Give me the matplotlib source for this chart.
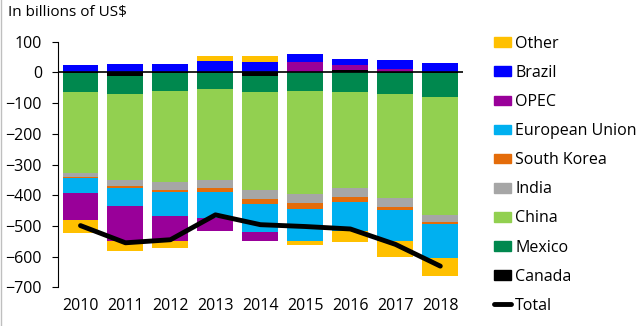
import numpy as np
import matplotlib.pyplot as plt
from matplotlib.patches import Patch
from matplotlib.lines import Line2D

plt.rcParams['font.family'] = ['Open Sans', 'DejaVu Sans']

years = ["2010", "2011", "2012", "2013", "2014", "2015", "2016", "2017", "2018"]

# billions of US$
canada = [-3, -11, -3, -3, -11, 3, 8, -1, -1]
mexico = [-62, -58, -57, -50, -52, -60, -63, -69, -79]
china = [-264, -281, -296, -297, -319, -335, -312, -339, -383]
india = [-13, -19, -26, -28, -29, -29, -30, -29, -23]
south_korea = [-3, -7, -9, -11, -17, -20, -16, -10, -8]
eu = [-49, -58, -76, -84, -93, -104, -95, -100, -110]
opec = [-86, -116, -81, -45, -29, 32, 17, 11, 0]
brazil = [25, 28, 28, 38, 35, 26, 19, 29, 32]
other = [-44, -33, -25, 16, 19, -15, -38, -52, -59]

series = [
    ("Canada", canada, "#000000"),
    ("Mexico", mexico, "#00884E"),
    ("China", china, "#92D050"),
    ("India", india, "#A6A6A6"),
    ("South Korea", south_korea, "#E46C0A"),
    ("European Union", eu, "#00B0F0"),
    ("OPEC", opec, "#990099"),
    ("Brazil", brazil, "#0000FF"),
    ("Other", other, "#FFC000"),
]

total = np.sum([np.array(s[1]) for s in series], axis=0)

fig = plt.figure(figsize=(6.41, 3.26), dpi=100)
ax = fig.add_axes([0.0905, 0.1187, 0.6315, 0.7533])

x = np.arange(len(years))
pos_bottom = np.zeros(len(years))
neg_bottom = np.zeros(len(years))
for name, vals, col in series:
    v = np.array(vals, dtype=float)
    bottom = np.where(v >= 0, pos_bottom, neg_bottom)
    ax.bar(x, v, 0.8, bottom=bottom, color=col, linewidth=0)
    pos_bottom += np.where(v >= 0, v, 0)
    neg_bottom += np.where(v < 0, v, 0)

ax.plot(x, total, color="black", lw=3.5, solid_capstyle="round", solid_joinstyle="round")
ax.axhline(0, color="black", lw=1.2)

ax.set_xlim(-0.5, 8.5)
ax.set_ylim(-700, 100)
ax.set_yticks(range(-700, 101, 100))
ax.set_xticks(x)
ax.set_xticklabels(years)
for s in ["top", "right", "bottom"]:
    ax.spines[s].set_visible(False)
ax.spines["left"].set_linewidth(0.8)
ax.tick_params(axis="y", direction="out", length=4, width=0.8, labelsize=11.5, pad=7.5)
ax.tick_params(axis="x", length=0, labelsize=11.5, pad=8)

fig.text(0.013, 0.962, "In billions of US$", fontsize=11, va="center", ha="left")

handles = [Patch(color=col, label=name) for name, vals, col in reversed(series)]
handles.append(Line2D([0], [0], color="black", lw=3.5, solid_capstyle="round", label="Total"))
fig.legend(handles=handles, loc="upper left", bbox_to_anchor=(0.771, 0.89),
           frameon=False, fontsize=11.5, handlelength=1.06, handleheight=0.56,
           handletextpad=0.25, labelspacing=0.82, borderaxespad=0, borderpad=0)

fig.add_artist(Line2D([0.002, 0.002], [0, 1], color="#BFBFBF", lw=1))

fig.savefig("out.png", dpi=100)
